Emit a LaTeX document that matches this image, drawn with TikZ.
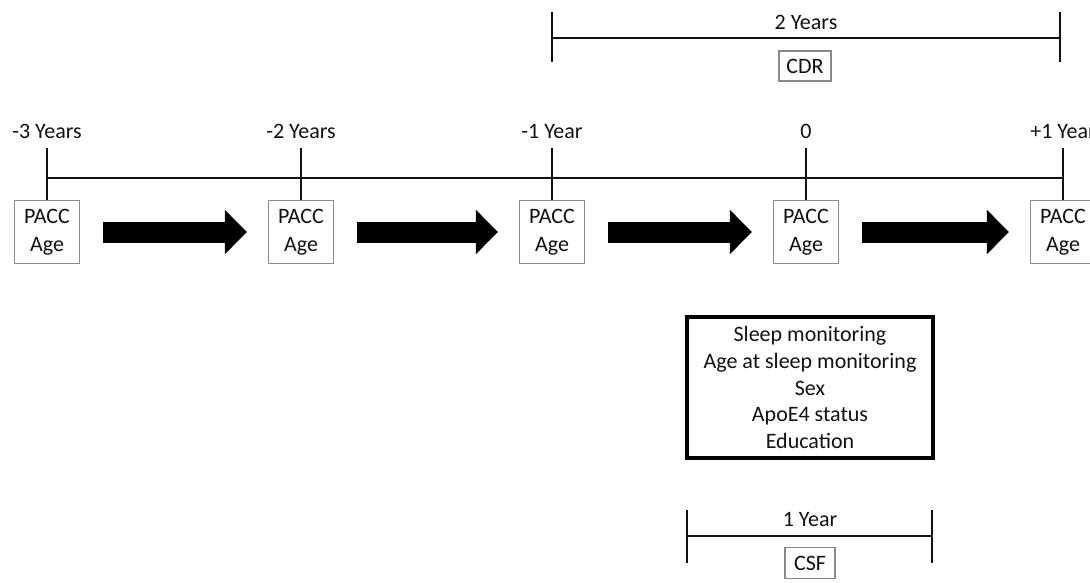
\documentclass[tikz,border=0pt]{standalone}
\usepackage{fontspec}
\setmainfont{Carlito}
\usetikzlibrary{arrows.meta}
\definecolor{boxgray}{HTML}{8A8A8A}
\definecolor{ink}{HTML}{111111}
\tikzset{
  pbox/.style={draw=boxgray, line width=1.2pt, fill=white, minimum width=65pt, minimum height=63pt,
    align=center, inner sep=0pt, text=ink, font=\fontsize{22}{28}\selectfont},
  sbox/.style={draw=boxgray, line width=1.2pt, fill=white, inner sep=0pt, text=ink, font=\fontsize{22}{25}\selectfont},
  lbl/.style={inner sep=0pt, text=ink, font=\fontsize{22}{25}\selectfont},
  tl/.style={line width=1.8pt, draw=ink},
  bigarrow/.style={line width=21pt, draw=black, -{Triangle[length=22pt,width=43pt]}},
  infobox/.style={draw=black, line width=3.5pt, minimum width=246pt, minimum height=141pt,
    align=center, inner sep=0pt, text=ink, font=\fontsize{22}{26.6}\selectfont}
}
\begin{document}
\begin{tikzpicture}[x=1pt,y=-1pt]
\useasboundingbox (0,0) rectangle (1090,582);
% main timeline
\coordinate (L) at (47,178);
\coordinate (R) at (1063,178);
\draw[tl] (L) -- (R);
% PACC boxes
\node[pbox] (b1) at (47,232) {PACC\\Age};
\node[pbox] (b2) at (301,232) {PACC\\Age};
\node[pbox] (b3) at (552,232) {PACC\\Age};
\node[pbox] (b4) at (806,232) {PACC\\Age};
\node[pbox] (b5) at (1063,232) {PACC\\Age};
% ticks
\coordinate (t1) at (47,148);
\coordinate (t2) at (301,148);
\coordinate (t3) at (552,148);
\coordinate (t4) at (806,148);
\coordinate (t5) at (1063,148);
\draw[tl] (t1) -- (b1.north);
\draw[tl] (t2) -- (b2.north);
\draw[tl] (t3) -- (b3.north);
\draw[tl] (t4) -- (b4.north);
\draw[tl] (t5) -- (b5.north);
% tick labels
\node[lbl] (l1) at (47,131) {-3 Years};
\node[lbl] (l2) at (301,131) {-2 Years};
\node[lbl] (l3) at (552,131) {-1 Year};
\node[lbl] (l4) at (806,131) {0};
\node[lbl] (l5) at (1063,131) {+1 Year};
% big arrows
\draw[bigarrow] ([xshift=23pt]b1.east) -- ([xshift=-21pt]b2.west);
\draw[bigarrow] ([xshift=23pt]b2.east) -- ([xshift=-21pt]b3.west);
\draw[bigarrow] ([xshift=23pt]b3.east) -- ([xshift=-21pt]b4.west);
\draw[bigarrow] ([xshift=23pt]b4.east) -- ([xshift=-21pt]b5.west);
% CDR bracket
\coordinate (c1) at (552,38);
\coordinate (c2) at (1060,38);
\coordinate (c1t) at (552,12);
\coordinate (c1b) at (552,62);
\coordinate (c2t) at (1060,12);
\coordinate (c2b) at (1060,62);
\draw[tl] (c1) -- (c2);
\draw[tl] (c1t) -- (c1b);
\draw[tl] (c2t) -- (c2b);
\node[lbl] (twoy) at (806,22) {2 Years};
\node[sbox, minimum width=52pt, minimum height=30pt] (cdr) at (805,66) {CDR};
% info box
\node[infobox] (info) at (810,387.5) {Sleep monitoring\\Age at sleep monitoring\\Sex\\ApoE4 status\\Education};
% CSF bracket
\coordinate (s1) at (687,536);
\coordinate (s2) at (932,536);
\coordinate (s1t) at (687,510);
\coordinate (s1b) at (687,563);
\coordinate (s2t) at (932,510);
\coordinate (s2b) at (932,563);
\draw[tl] (s1) -- (s2);
\draw[tl] (s1t) -- (s1b);
\draw[tl] (s2t) -- (s2b);
\node[lbl] (oney) at (810,519) {1 Year};
\node[sbox, minimum width=50pt, minimum height=31pt] (csf) at (810,563) {CSF};
\end{tikzpicture}
\end{document}
